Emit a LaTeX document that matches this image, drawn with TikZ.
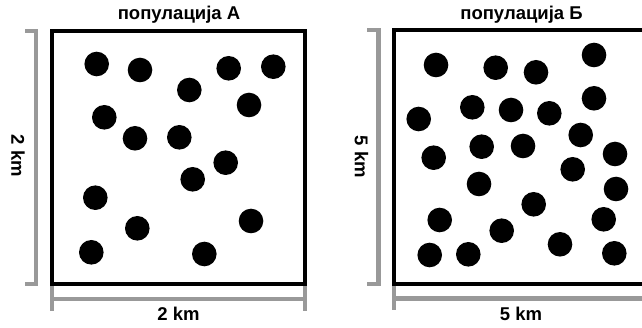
\documentclass[tikz,border=0pt]{standalone}
\usepackage{fontspec}
\setmainfont{Liberation Sans}
\begin{document}
\begin{tikzpicture}[x=1pt,y=-1pt,
  boxline/.style={line width=4.6pt,black},
  dimline/.style={line width=4.6pt,black!40},
  dot/.style={fill=black},
  lbl/.style={inner sep=0pt,font=\fontsize{18.5}{18.5}\selectfont\bfseries}]
\useasboundingbox (0,0) rectangle (642,328);
\begin{scope}
\clip (0,0) rectangle (642,328);
% population A
\draw[dimline] (25,31) -- (36,31) -- (36,284) -- (25,284);
\draw[dimline] (52,284) -- (52,311);
\draw[dimline] (305,284) -- (305,311);
\draw[dimline] (52,299) -- (305,299);
\draw[boxline] (52,31) rectangle (305,284);
\foreach \p in {(96.7,64),(140,70),(189.3,90),(228.7,68.3),(273.3,66.7),(249,105),
  (104.3,117.3),(135,138.3),(179.3,137.3),(225.7,162.7),(192.7,179.3),(95.3,197.7),
  (137.3,228.3),(251,221),(91.3,252.3),(204.3,254)}
  \fill[dot] \p circle[radius=12.3];
% population B
\draw[dimline] (367,30) -- (378.5,30) -- (378.5,284) -- (367,284);
\draw[dimline] (394,284) -- (394,310);
\draw[dimline] (394,298.5) -- (650,298.5);
\draw[boxline] (650,30) -- (394,30) -- (394,284) -- (650,284);
\foreach \p in {(436,65),(495.7,67.7),(536,72.3),(594,55),(472.3,107.3),(511,110),
  (549.3,113.3),(594,98.3),(418.7,119),(580.7,135),(481.7,146.7),(523,146),
  (433.7,157.7),(615,154),(572.7,169.3),(479,184),(616,189),(533.7,204.3),
  (439.7,220),(603.7,219.3),(501.7,230.7),(560,244.3),(429.7,255),(468.3,254.3),
  (614.3,253.3)}
  \fill[dot] \p circle[radius=12.3];
\end{scope}
\node[lbl] (titleA) at (179,15) {популација А};
\node[lbl] (titleB) at (521.5,15) {популација Б};
\node[lbl,rotate=-90] (sideA) at (18,156) {2 km};
\node[lbl,rotate=-90] (sideB) at (361.5,157) {5 km};
\node[lbl] (botA) at (178.5,314) {2 km};
\node[lbl] (botB) at (521,314) {5 km};
\end{tikzpicture}
\end{document}
